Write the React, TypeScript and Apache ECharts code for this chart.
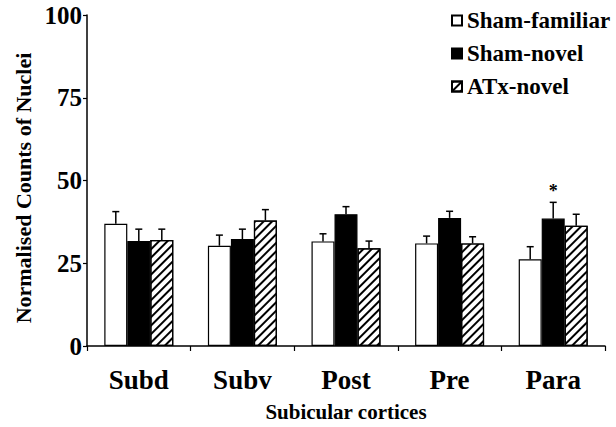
import React, { useEffect, useRef } from "react";
import * as echarts from "echarts";

const categories = ["Subd", "Subv", "Post", "Pre", "Para"];
const seriesNames = ["Sham-familiar", "Sham-novel", "ATx-novel"];
const shamFamiliar = [36.9, 30.3, 31.6, 31.0, 26.2];
const shamFamiliarErr = [3.7, 3.2, 2.3, 2.2, 3.8];
const shamNovel = [31.7, 32.3, 39.8, 38.7, 38.5];
const shamNovelErr = [3.6, 3.0, 2.3, 2.0, 4.9];
const atxNovel = [32.0, 37.9, 29.5, 31.0, 36.3];
const atxNovelErr = [3.3, 3.3, 2.2, 2.0, 3.5];
const shamNovelSig = ["", "", "", "", "*"];
const yTicks = [0, 25, 50, 75, 100];

const FONT = "'Liberation Serif', 'Times New Roman', serif";
const BAR_W = 23;

export default function App() {
  const ref = useRef<HTMLDivElement>(null);
  useEffect(() => {
    document.body.style.margin = "0";
    const chart = echarts.init(ref.current!, null, { renderer: "svg" });
    const values = [shamFamiliar, shamNovel, atxNovel];
    const errs = [shamFamiliarErr, shamNovelErr, atxNovelErr];
    const sigs = [["", "", "", "", ""], shamNovelSig, ["", "", "", "", ""]];
    const errData: any[] = [];
    values.forEach((arr, g) =>
      arr.forEach((v, i) => errData.push([i, v, errs[g][i], g, sigs[g][i]]))
    );
    const itemStyles = [
      { color: "#fff", borderColor: "#000", borderWidth: 1.2 },
      { color: "#000", borderColor: "#000", borderWidth: 1.2 },
      {
        color: "#fff",
        borderColor: "#000",
        borderWidth: 1.2,
        decal: {
          symbol: "rect",
          symbolSize: 1,
          dashArrayX: [1, 0],
          dashArrayY: [2, 4],
          rotation: -Math.PI / 4,
          color: "#000",
          backgroundColor: "#fff",
        },
      },
    ];
    chart.setOption({
      animation: false,
      textStyle: { fontFamily: FONT },
      grid: { left: 87, right: 11, top: 15, bottom: 81, containLabel: false, outerBoundsMode: "none" },
      legend: {
        data: seriesNames.map((n) => ({ name: n, icon: "rect" })),
        orient: "vertical",
        left: 446,
        top: 4,
        itemWidth: 10,
        itemHeight: 10,
        itemGap: 10,
        textStyle: { fontFamily: FONT, fontWeight: "bold", fontSize: 23, color: "#000", padding: [2, 0, 0, 0] },
      },
      xAxis: {
        type: "category",
        data: categories,
        axisLine: { lineStyle: { color: "#000", width: 1.5 } },
        axisTick: { show: true, length: 5, lineStyle: { color: "#000", width: 1.2 } },
        axisLabel: { fontFamily: FONT, fontWeight: "bold", fontSize: 27, color: "#000", margin: 20 },
        name: "Subicular cortices",
        nameLocation: "middle",
        nameGap: 55,
        nameTextStyle: { fontFamily: FONT, fontWeight: "bold", fontSize: 21, color: "#000" },
      },
      yAxis: {
        type: "value",
        min: yTicks[0],
        max: yTicks[yTicks.length - 1],
        interval: 25,
        splitLine: { show: false },
        axisLine: { show: true, lineStyle: { color: "#000", width: 1.5 } },
        axisTick: { show: true, length: 4, lineStyle: { color: "#000", width: 1.2 } },
        axisLabel: { fontFamily: FONT, fontWeight: "bold", fontSize: 25, color: "#000", margin: 5 },
      },
      graphic: [
        {
          type: "text",
          x: 12,
          y: 188,
          rotation: Math.PI / 2,
          style: {
            text: "Normalised Counts of Nuclei",
            font: `bold 22px ${FONT}`,
            fill: "#000",
            align: "center",
            verticalAlign: "top",
          },
        },
      ],
      series: [
        ...seriesNames.map((n, g) => ({
          name: n,
          type: "bar",
          data: values[g],
          barWidth: BAR_W,
          barGap: "0%",
          itemStyle: itemStyles[g],
          emphasis: { disabled: true },
        })),
        {
          type: "custom",
          name: "err",
          data: errData,
          z: 5,
          renderItem: (params: any, api: any) => {
            const i = api.value(0);
            const v = api.value(1);
            const e = api.value(2);
            const g = api.value(3);
            const sig = errData[params.dataIndex][4];
            const b = api.coord([i, v]);
            const t = api.coord([i, v + e]);
            const x = b[0] + (g - 1) * BAR_W;
            const children: any[] = [
              { type: "line", shape: { x1: x, y1: b[1], x2: x, y2: t[1] }, style: { stroke: "#000", lineWidth: 1.5 } },
              { type: "line", shape: { x1: x - 3.5, y1: t[1], x2: x + 3.5, y2: t[1] }, style: { stroke: "#000", lineWidth: 1.5 } },
            ];
            if (sig) {
              children.push({
                type: "text",
                x: x,
                y: t[1] - 2,
                style: { text: sig, font: `bold 18px ${FONT}`, fill: "#000", align: "center", verticalAlign: "bottom" },
              });
            }
            return { type: "group", children };
          },
        },
      ],
    });
    return () => chart.dispose();
  }, []);
  return <div ref={ref} style={{ width: 616, height: 427 }} />;
}
